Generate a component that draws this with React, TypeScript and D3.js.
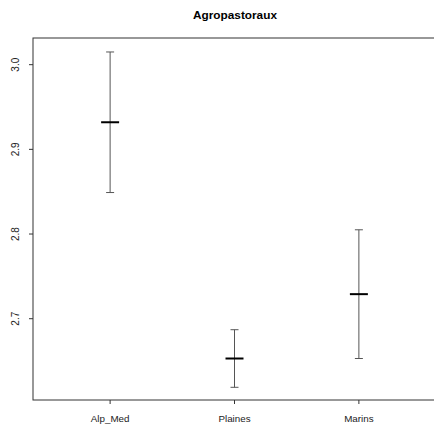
import React from "react";
import * as d3 from "d3";

const categories = ["Alp_Med", "Plaines", "Marins"];
const means = [2.932, 2.653, 2.729];
const lowers = [2.849, 2.619, 2.653];
const uppers = [3.015, 2.687, 2.805];
const yTicks = [2.7, 2.8, 2.9, 3.0];
const title = "Agropastoraux";

export default function App() {
  const W = 434, H = 429;
  const left = 33, right = 436, top = 38, bottom = 400;
  const x = d3.scaleLinear().domain([0.38, 3.62]).range([left, right]);
  const y = d3.scaleLinear().domain([2.604, 3.0315]).range([bottom, top]);
  const font = "Liberation Sans, Arial, sans-serif";
  return (
    <svg width={W} height={H} style={{ position: "absolute", left: 0, top: 0, background: "#fff" }}>
      <text x={235} y={19} textAnchor="middle" fontFamily={font} fontWeight="bold" fontSize={11.8} fill="#000">
        {title}
      </text>
      <rect x={left} y={top} width={right - left} height={bottom - top} fill="none" stroke="#333" strokeWidth={1} />
      {yTicks.map((t) => (
        <g key={t}>
          <line x1={left - 4} x2={left} y1={y(t)} y2={y(t)} stroke="#333" />
          <text
            transform={`translate(${left - 14},${y(t)}) rotate(-90)`}
            textAnchor="middle"
            fontFamily={font}
            fontSize={10}
            fill="#222"
          >
            {t.toFixed(1)}
          </text>
        </g>
      ))}
      {categories.map((c, i) => (
        <g key={c}>
          <line x1={x(i + 1)} x2={x(i + 1)} y1={bottom} y2={bottom + 4} stroke="#333" />
          <text x={x(i + 1)} y={bottom + 22} textAnchor="middle" fontFamily={font} fontSize={9.8} fill="#222">
            {c}
          </text>
        </g>
      ))}
      {categories.map((c, i) => {
        const cx = x(i + 1);
        return (
          <g key={"e" + c}>
            <line x1={cx} x2={cx} y1={y(uppers[i])} y2={y(lowers[i])} stroke="#555" strokeWidth={1} />
            <line x1={cx - 4} x2={cx + 4} y1={y(uppers[i])} y2={y(uppers[i])} stroke="#555" strokeWidth={1} />
            <line x1={cx - 4} x2={cx + 4} y1={y(lowers[i])} y2={y(lowers[i])} stroke="#555" strokeWidth={1} />
            <line x1={cx - 9} x2={cx + 9} y1={y(means[i])} y2={y(means[i])} stroke="#000" strokeWidth={2} />
          </g>
        );
      })}
    </svg>
  );
}
